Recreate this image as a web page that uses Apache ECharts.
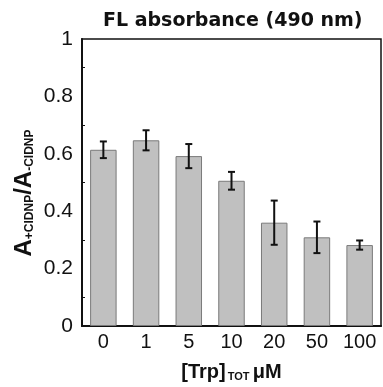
<!DOCTYPE html>
<html>
<head>
<meta charset="utf-8">
<script src="https://cdn.jsdelivr.net/npm/echarts@6/dist/echarts.min.js"></script>
<style>
  html, body { margin: 0; padding: 0; background: #fff; }
  #chart { width: 383px; height: 387px; }
</style>
</head>
<body>
<div id="chart"></div>
<script>
// [Trp]TOT concentrations (uM)
const categories = ['0', '1', '5', '10', '20', '50', '100']
// A+CIDNP / A-CIDNP ratio, mean and error
const means = [0.614, 0.647, 0.592, 0.506, 0.360, 0.309, 0.282]
const errors = [0.029, 0.035, 0.042, 0.031, 0.077, 0.055, 0.016]

const labelFont = "'Liberation Sans', Arial, sans-serif"
const boldFont = "'Liberation Sans', Arial, sans-serif"

const errorData = means.map((m, i) => [i, m - errors[i], m + errors[i]])

const chart = echarts.init(document.getElementById('chart'), null, { renderer: 'canvas' })

const option = {
  backgroundColor: '#fff',
  animation: false,
  title: {
    text: 'FL absorbance (490 nm)',
    left: 103,
    top: 12,
    padding: 0,
    textStyle: {
      fontFamily: "'DejaVu Sans', sans-serif",
      fontWeight: 'bold',
      fontSize: 19,
      color: '#111',
    },
  },
  grid: {
    left: 82,
    right: 2,
    top: 39,
    bottom: 58,
    show: true,
    borderColor: '#111',
    borderWidth: 1.5,
  },
  xAxis: {
    type: 'category',
    data: categories,
    axisLine: { lineStyle: { color: '#111', width: 2 } },
    axisTick: { inside: true, length: 5, lineStyle: { color: '#111', width: 1.5 } },
    axisLabel: {
      interval: 0,
      margin: 6,
      fontFamily: labelFont,
      fontSize: 20,
      color: '#111',
    },
    name: '{b|[Trp]}{s|TOT} {b|μM}',
    nameLocation: 'middle',
    nameGap: 36,
    nameTextStyle: {
      rich: {
        b: { fontFamily: boldFont, fontWeight: 'bold', fontSize: 20, color: '#111' },
        s: { fontFamily: boldFont, fontWeight: 'bold', fontSize: 11, color: '#111', verticalAlign: 'bottom', padding: [8, 0, 0, 2] },
      },
    },
  },
  yAxis: {
    type: 'value',
    min: 0,
    max: 1,
    interval: 0.2,
    axisLine: { show: true, lineStyle: { color: '#111', width: 2 } },
    axisTick: { inside: true, length: 5, lineStyle: { color: '#111', width: 1.5 } },
    minorTick: { show: true, splitNumber: 2, length: 3, lineStyle: { color: '#111', width: 1 } },
    splitLine: { show: false },
    axisLabel: {
      margin: 9,
      fontFamily: labelFont,
      fontSize: 21,
      color: '#111',
      formatter: (v) => (v === 0 || v === 1 ? String(v) : v.toFixed(1)),
    },
  },
  graphic: [
    {
      type: 'text',
      x: 24,
      y: 193,
      rotation: Math.PI / 2,
      style: {
        text: '{b|A}{s|+CIDNP}{b|/A}{s|-CIDNP}',
        align: 'center',
        verticalAlign: 'middle',
        rich: {
          b: { fontFamily: boldFont, fontWeight: 'bold', fontSize: 24, fill: '#111' },
          s: { fontFamily: boldFont, fontWeight: 'bold', fontSize: 12, fill: '#111', padding: [12, 0, 0, 0] },
        },
      },
    },
  ],
  series: [
    {
      type: 'bar',
      data: means,
      barWidth: '62%',
      itemStyle: { color: '#c0c0c0', borderColor: '#7a7a7a', borderWidth: 1 },
    },
    {
      type: 'custom',
      data: errorData,
      renderItem: function (params, api) {
        const lo = api.coord([api.value(0), api.value(1)])
        const hi = api.coord([api.value(0), api.value(2)])
        const cap = 3.5
        const style = { stroke: '#111', lineWidth: 2 }
        return {
          type: 'group',
          children: [
            { type: 'line', shape: { x1: lo[0], y1: lo[1], x2: hi[0], y2: hi[1] }, style },
            { type: 'line', shape: { x1: hi[0] - cap, y1: hi[1], x2: hi[0] + cap, y2: hi[1] }, style },
            { type: 'line', shape: { x1: lo[0] - cap, y1: lo[1], x2: lo[0] + cap, y2: lo[1] }, style },
          ],
        }
      },
      z: 10,
    },
  ],
}

chart.setOption(option)
</script>
</body>
</html>
